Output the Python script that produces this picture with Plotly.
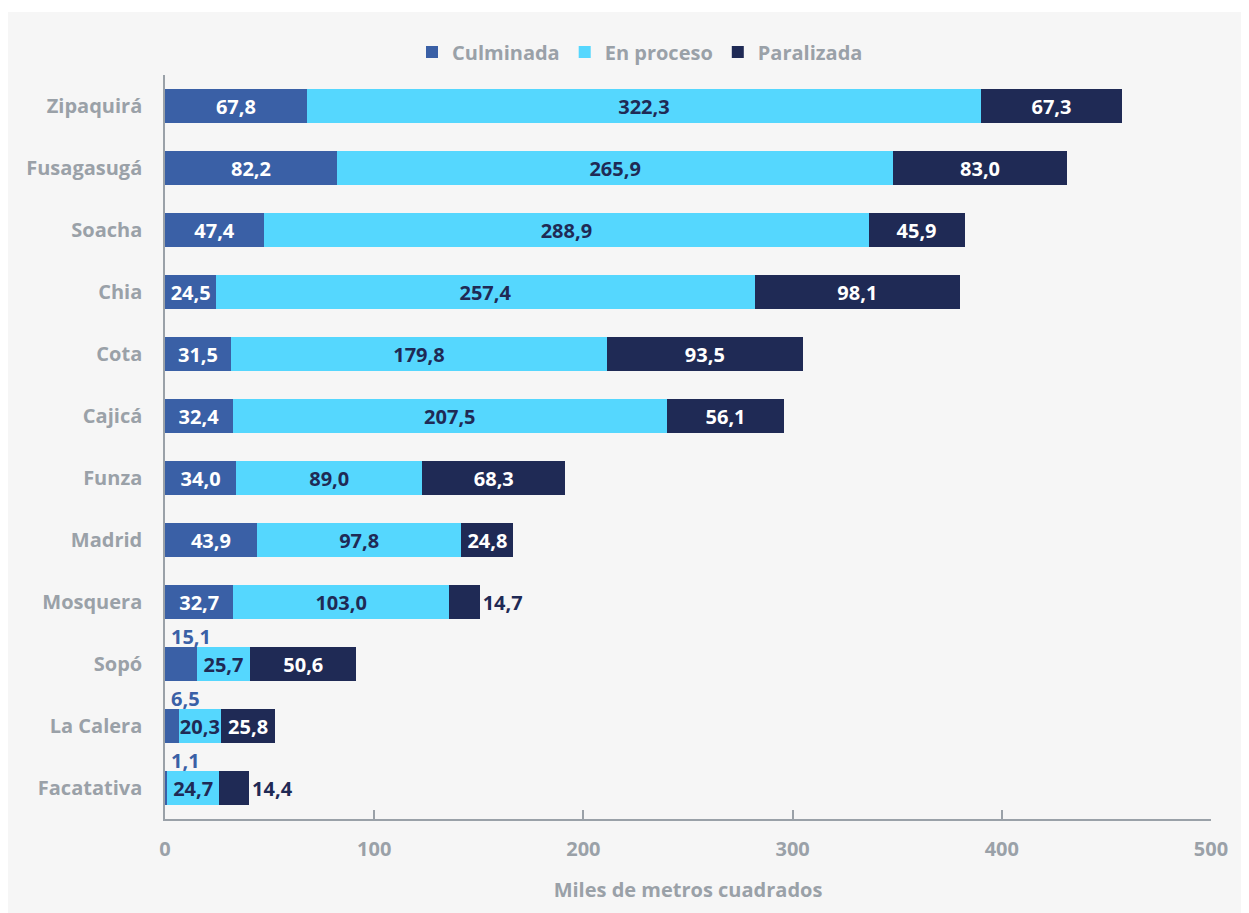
import plotly.graph_objects as go

municipios = ["Zipaquirá", "Fusagasugá", "Soacha", "Chia", "Cota", "Cajicá",
              "Funza", "Madrid", "Mosquera", "Sopó", "La Calera", "Facatativa"]
culminada = [67.8, 82.2, 47.4, 24.5, 31.5, 32.4, 34.0, 43.9, 32.7, 15.1, 6.5, 1.1]
en_proceso = [322.3, 265.9, 288.9, 257.4, 179.8, 207.5, 89.0, 97.8, 103.0, 25.7, 20.3, 24.7]
paralizada = [67.3, 83.0, 45.9, 98.1, 93.5, 56.1, 68.3, 24.8, 14.7, 50.6, 25.8, 14.4]
x_ticks = [0, 100, 200, 300, 400, 500]

C1, C2, C3 = "#3a60a6", "#55d7fe", "#1f2a55"
GRAY = "#9aa1a8"
BG = "#f6f6f6"
FONT = "Open Sans"
FS = 20

def fmt(v):
    return f"{v:.1f}".replace(".", ",")

# page body has an 8px margin; figure origin at (8, 8) in the screenshot
OFF = 8
W, H = 1249, 913
ML = 165 - OFF
MT = 75 - OFF
MR = (W + OFF) - 1211
MB = (H + OFF) - 819
pw, ph = W - ML - MR, H - MT - MB

def px_to_py(py):  # screenshot y -> paper y
    return 1 - (py - OFF - MT) / ph

def px_to_px(px):  # screenshot x -> paper x
    return (px - OFF - ML) / pw

fig = go.Figure()

fig.add_trace(go.Bar(
    name="Culminada", y=municipios, x=culminada, orientation="h",
    marker=dict(color=C1, line=dict(width=0)),
    text=[fmt(v) if v >= 20 else "" for v in culminada],
    textposition="inside", insidetextanchor="middle",
    insidetextfont=dict(color="white", size=FS, family=FONT, weight="bold"),
    constraintext="none", hoverinfo="x+name",
))
fig.add_trace(go.Bar(
    name="En proceso", y=municipios, x=en_proceso, orientation="h",
    marker=dict(color=C2, line=dict(width=0)),
    text=[fmt(v) for v in en_proceso], textposition="inside", insidetextanchor="middle",
    insidetextfont=dict(color=C3, size=FS, family=FONT, weight="bold"),
    constraintext="none", hoverinfo="x+name",
))
fig.add_trace(go.Bar(
    name="Paralizada", y=municipios, x=paralizada, orientation="h",
    marker=dict(color=C3, line=dict(width=0)),
    text=[fmt(v) for v in paralizada],
    textposition=["outside" if v < 20 else "inside" for v in paralizada],
    insidetextanchor="middle",
    insidetextfont=dict(color="white", size=FS, family=FONT, weight="bold"),
    outsidetextfont=dict(color=C3, size=FS, family=FONT, weight="bold"),
    constraintext="none", cliponaxis=False, hoverinfo="x+name",
))

annotations = []
for m, v in zip(municipios, culminada):
    if v < 20:
        annotations.append(dict(
            x=0, y=m, xref="x", yref="y", text=fmt(v), showarrow=False,
            xanchor="left", yanchor="middle", xshift=4, yshift=28,
            font=dict(color=C1, size=FS, family=FONT, weight="bold"),
        ))

# thin white strip at the very top (gray panel begins at y=12)
shapes = [dict(type="rect", xref="paper", yref="paper",
               x0=px_to_px(0), x1=px_to_px(W + 20),
               y0=px_to_py(12), y1=px_to_py(0),
               fillcolor="white", line=dict(width=0), layer="below")]

n = len(municipios)
fig.update_layout(
    width=W, height=H,
    margin=dict(l=ML, r=MR, t=MT, b=MB, autoexpand=False),
    paper_bgcolor=BG, plot_bgcolor="rgba(0,0,0,0)",
    barmode="stack", bargap=0.45,
    separators=",.",
    font=dict(family=FONT, color=GRAY, size=FS),
    legend=dict(orientation="h", x=px_to_px(640), xanchor="center", y=px_to_py(52),
                yanchor="middle", font=dict(size=FS, color=GRAY, family=FONT, weight="bold"),
                bgcolor="rgba(0,0,0,0)", traceorder="normal"),
    xaxis=dict(range=[0, 500], tickvals=x_ticks, ticktext=[str(t) for t in x_ticks],
               showgrid=False, zeroline=False, showline=True, linecolor=GRAY, linewidth=1.5,
               ticks="inside", ticklen=9, tickcolor=GRAY, tickwidth=1.5,
               ticklabelstandoff=11, automargin=False,
               tickfont=dict(size=FS, color=GRAY, family=FONT, weight="bold"),
               title=dict(text="Miles de metros cuadrados", standoff=22,
                          font=dict(size=FS, color=GRAY, family=FONT, weight="bold"))),
    yaxis=dict(range=[n - 0.5, -0.5], autorange=False, showgrid=False, zeroline=False,
               showline=True, automargin=False,
               linecolor=GRAY, linewidth=1.5, ticks="", ticklabelstandoff=17,
               tickfont=dict(size=FS, color=GRAY, family=FONT, weight="bold")),
    annotations=annotations, shapes=shapes,
)

fig.write_html("out.html")
